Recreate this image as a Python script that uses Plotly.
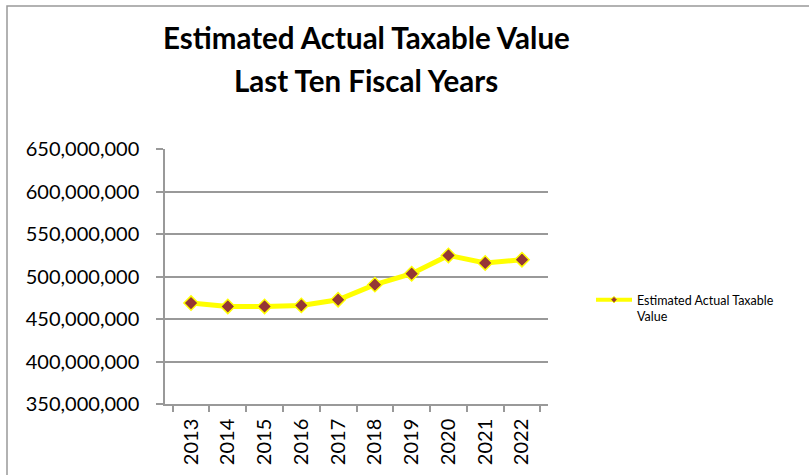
import plotly.graph_objects as go

years = ["2013", "2014", "2015", "2016", "2017", "2018", "2019", "2020", "2021", "2022"]
values = [468_800_000, 464_800_000, 464_800_000, 466_000_000, 472_700_000,
          490_400_000, 503_300_000, 524_800_000, 515_900_000, 519_800_000]
series_name = "Estimated Actual Taxable<br>Value"
title_line1 = "Estimated Actual Taxable Value"
title_line2 = "Last Ten Fiscal Years"

FONT = "Lato, Carlito, Calibri, sans-serif"
W, H = 809, 475

# target pixel layout of the plotting area
plot_left, plot_right, plot_top, plot_bottom = 165, 548, 149, 404
L, T = plot_left, plot_top
R, B = W - plot_right, H - plot_bottom
pw, ph = plot_right - plot_left, plot_bottom - plot_top

def px(x):
    return (x - plot_left) / pw

def py(y):
    return (plot_bottom - y) / ph

fig = go.Figure()
fig.add_trace(go.Scatter(
    x=years, y=values, mode="lines+markers", name=series_name, showlegend=False,
    line=dict(color="#FFFF00", width=5),
    marker=dict(symbol="diamond", size=11, color="#953735",
                line=dict(color="#FFFF00", width=1.5)),
))
# legend entry (same series, smaller legend symbol as in the original)
fig.add_trace(go.Scatter(
    x=[years[0]], y=[None], mode="lines+markers", name=series_name, showlegend=True,
    line=dict(color="#FFFF00", width=4),
    marker=dict(symbol="diamond", size=5, color="#953735",
                line=dict(color="#FFFF00", width=1)),
))

fig.update_layout(
    width=W, height=H,
    margin=dict(l=L, r=R, t=T, b=B, pad=0, autoexpand=False),
    paper_bgcolor="white", plot_bgcolor="white",
    font=dict(family=FONT, color="#000000", size=20),
    showlegend=True,
    legend=dict(x=px(591), y=py(285), xanchor="left", yanchor="top",
                font=dict(size=12.5, family=FONT), bgcolor="rgba(0,0,0,0)",
                itemwidth=36, valign="top"),
    xaxis=dict(type="category", showline=True, linecolor="#999999", linewidth=1.5,
               ticks="outside", tickson="boundaries", ticklen=6, tickcolor="#999999",
               tickwidth=1.5, tickangle=-90, showgrid=False, ticklabelstandoff=5,
               tickfont=dict(size=20, family=FONT)),
    yaxis=dict(range=[350_000_000, 650_000_000], dtick=50_000_000, tickformat=",",
               showline=True, linecolor="#999999", linewidth=1.5,
               ticks="outside", ticklen=7, tickcolor="#999999", tickwidth=1.5,
               showgrid=True, gridcolor="#999999", gridwidth=1.5, zeroline=False,
               ticklabelstandoff=13, tickfont=dict(size=20, family=FONT)),
)

fig.add_shape(type="rect", xref="paper", yref="paper",
              x0=px(7), x1=px(900), y0=py(560), y1=py(6),
              line=dict(color="#999999", width=1.5), fillcolor="rgba(0,0,0,0)", layer="below")

fig.add_annotation(text="<b>" + title_line1 + "</b>", xref="paper", yref="paper",
                   x=px(366), y=py(37), xanchor="center", yanchor="middle",
                   showarrow=False, font=dict(size=29.5, family=FONT, color="#000000"))
fig.add_annotation(text="<b>" + title_line2 + "</b>", xref="paper", yref="paper",
                   x=px(366), y=py(80), xanchor="center", yanchor="middle",
                   showarrow=False, font=dict(size=29.5, family=FONT, color="#000000"))

fig.write_html("out.html",
               config={"displayModeBar": False},
               post_script="document.body.style.margin='0px';document.body.style.overflow='hidden';")
